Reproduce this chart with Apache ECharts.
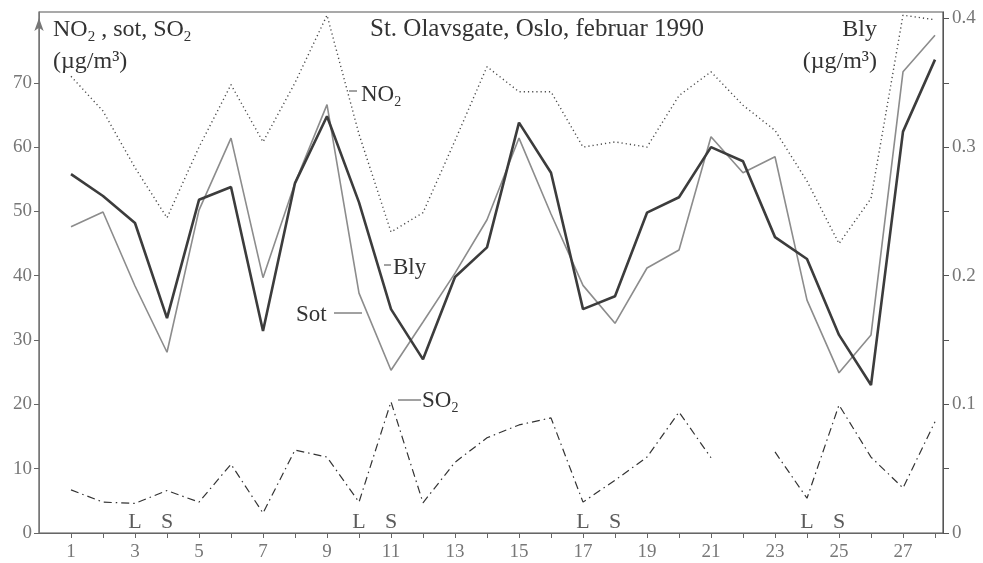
<!DOCTYPE html>
<html>
<head>
<meta charset="utf-8">
<title>St. Olavsgate, Oslo, februar 1990</title>
<script src="https://cdn.jsdelivr.net/npm/echarts@6/dist/echarts.min.js"></script>
<style>
	html, body { margin: 0; padding: 0; background: #fff; }
	#chart { width: 983px; height: 563px; }
</style>
</head>
<body>
<div id="chart"></div>
<script>
//dager i februar
var days = [1, 2, 3, 4, 5, 6, 7, 8, 9, 10, 11, 12, 13, 14, 15, 16, 17, 18, 19, 20, 21, 22, 23, 24, 25, 26, 27, 28];
var dayLabels = [1, 3, 5, 7, 9, 11, 13, 15, 17, 19, 21, 23, 25, 27];

//venstre akse (µg/m3)
var no2 = [71, 65.6, 56.8, 49, 60, 69.7, 60.8, 70, 80.5, 62, 46.8, 49.8, 61, 72.5, 68.6, 68.6, 60, 60.8, 60, 68, 71.7, 66.5, 62.6, 54.7, 45, 52, 80.5, 79.8];
var sot = [47.6, 49.9, 38.4, 28.1, 50.2, 61.4, 39.7, 54.4, 66.6, 37.3, 25.3, 32.8, 40.4, 48.7, 61.4, 49.6, 38.5, 32.6, 41.2, 44, 61.6, 56, 58.5, 36.2, 24.9, 30.8, 71.7, 77.4];
var so2 = [6.7, 4.8, 4.6, 6.6, 4.8, 10.7, 3.1, 12.9, 11.8, 4.8, 20.4, 4.7, 11, 14.8, 16.8, 17.9, 4.8, 8.2, 11.8, 18.8, 11.7, null, 12.6, 5.4, 19.9, 11.8, 7, 17.3];
var leftLabels = [0, 10, 20, 30, 40, 50, 60, 70];

//hoyre akse, bly (µg/m3)
var bly = [0.279, 0.262, 0.241, 0.167, 0.259, 0.269, 0.157, 0.272, 0.324, 0.257, 0.174, 0.135, 0.199, 0.222, 0.319, 0.28, 0.174, 0.184, 0.249, 0.261, 0.3, 0.289, 0.23, 0.213, 0.154, 0.115, 0.312, 0.368];
var rightLabels = [0, 0.1, 0.2, 0.3, 0.4];
var rightTicks = [0, 0.05, 0.1, 0.15, 0.2, 0.25, 0.3, 0.35, 0.4];

//L / S markering under kurvene
var markDays = [3, 4, 10, 11, 17, 18, 24, 25];
var markLetters = ['L', 'S', 'L', 'S', 'L', 'S', 'L', 'S'];

var serif = "'Liberation Serif', 'DejaVu Serif', serif";

function pairs(values) {
	var result = [];
	for (var i = 0; i < days.length; i++) {
		result.push([days[i], values[i]]);
	}
	return result;
}

function lineSeries(name, values, yIndex, color, width, type) {
	return {
		name : name,
		type : 'line',
		yAxisIndex : yIndex,
		data : pairs(values),
		showSymbol : false,
		clip : false,
		silent : true,
		lineStyle : {
			color : color,
			width : width,
			type : type
		}
	};
}

function label(text, x, y, align, size) {
	size = size || 20;
	return {
		type : 'text',
		silent : true,
		style : {
			text : text,
			x : x,
			y : y,
			textAlign : align || 'left',
			textVerticalAlign : 'middle',
			fontFamily : serif,
			fontSize : size,
			fill : '#333',
			rich : {
				s : { fontFamily : serif, fontSize : Math.round(size * 0.62), fill : '#333', verticalAlign : 'bottom', lineHeight : 16 },
				n : { fontFamily : serif, fontSize : size, fill : '#333', lineHeight : size + 6 }
			}
		}
	};
}

function dash(x1, y1, x2, y2) {
	return {
		type : 'line',
		silent : true,
		shape : { x1 : x1, y1 : y1, x2 : x2, y2 : y2 },
		style : { stroke : '#444', lineWidth : 1 }
	};
}

function buildMarks() {
	var data = [];
	for (var i = 0; i < markDays.length; i++) {
		data.push([markDays[i], 1.6, markLetters[i]]);
	}
	return {
		type : 'scatter',
		data : data,
		symbolSize : 1,
		silent : true,
		itemStyle : { color : 'rgba(0,0,0,0)' },
		label : {
			show : true,
			position : 'inside',
			formatter : function(p) { return p.data[2]; },
			fontFamily : serif,
			fontSize : 22,
			color : '#333'
		}
	};
}

var axisLabelStyle = {
	fontFamily : serif,
	fontSize : 19,
	color : '#777'
};

var chart = echarts.init(document.getElementById('chart'), null, { renderer : 'canvas' });

var option = {
	backgroundColor : '#fff',
	animation : false,
	grid : {
		left : 39,
		right : 40,
		top : 12,
		bottom : 30,
		show : true,
		borderColor : '#555',
		borderWidth : 1.2,
		backgroundColor : 'transparent'
	},
	xAxis : {
		type : 'value',
		min : 0,
		max : 28.25,
		splitLine : { show : false },
		axisLine : { lineStyle : { color : '#666', width : 1 } },
		axisTick : {
			customValues : days,
			length : 5,
			lineStyle : { color : '#666' }
		},
		axisLabel : Object.assign({ customValues : dayLabels, margin : 10 }, axisLabelStyle)
	},
	yAxis : [ {
		type : 'value',
		position : 'left',
		min : 0,
		max : 81,
		splitLine : { show : false },
		axisLine : {
			show : true,
			symbol : ['none', 'arrow'],
			symbolSize : [7, 13],
			symbolOffset : [0, -6],
			lineStyle : { color : '#777', width : 1 }
		},
		axisTick : {
			show : true,
			customValues : leftLabels,
			length : 5,
			lineStyle : { color : '#666' }
		},
		axisLabel : Object.assign({ customValues : leftLabels, margin : 7 }, axisLabelStyle)
	}, {
		type : 'value',
		position : 'right',
		min : 0,
		max : 0.405,
		splitLine : { show : false },
		axisLine : { show : true, lineStyle : { color : '#555', width : 1 } },
		axisTick : {
			show : true,
			customValues : rightTicks,
			length : 6,
			lineStyle : { color : '#555' }
		},
		axisLabel : Object.assign({ customValues : rightLabels, margin : 9 }, axisLabelStyle)
	} ],
	series : [
		lineSeries('NO2', no2, 0, '#4a4a4a', 1.4, [1.2, 3]),
		lineSeries('Sot', sot, 0, '#8c8c8c', 1.6, 'solid'),
		lineSeries('Bly', bly, 1, '#3c3c3c', 2.6, 'solid'),
		lineSeries('SO2', so2, 0, '#333', 1.2, [8, 4, 1.5, 4]),
		buildMarks()
	],
	graphic : [
		label('St. Olavsgate, Oslo, februar 1990', 370, 29, 'left', 25),
		label('{n|NO}{s|2}{n| , sot, SO}{s|2}', 53, 30, 'left', 24),
		label('(µg/m³)', 53, 62, 'left', 24),
		label('Bly', 877, 30, 'right', 24),
		label('(µg/m³)', 877, 62, 'right', 24),
		dash(349, 91, 357, 91),
		label('{n|NO}{s|2}', 361, 95, 'left', 23),
		dash(384, 265, 391, 265),
		label('Bly', 393, 268, 'left', 23),
		label('Sot', 296, 315, 'left', 23),
		dash(334, 313, 362, 313),
		dash(398, 400, 421, 400),
		label('{n|SO}{s|2}', 422, 401, 'left', 23)
	]
};

chart.setOption(option, true);
</script>
</body>
</html>
